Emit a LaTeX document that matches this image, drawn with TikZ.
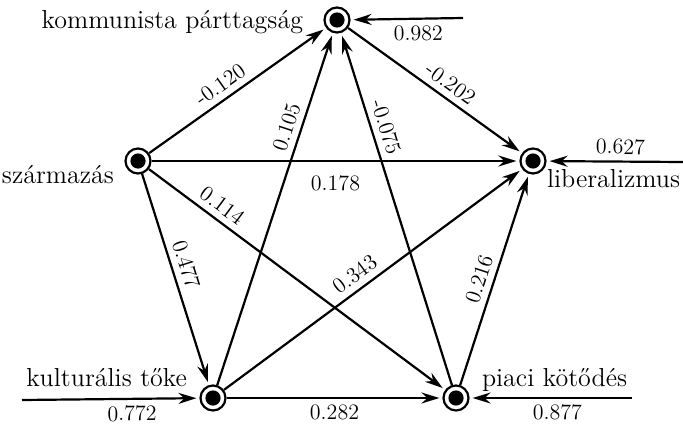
\documentclass[tikz,border=0pt]{standalone}
\usepackage{tikz}
\usetikzlibrary{arrows.meta,positioning}
\tikzset{
  var/.style={circle, draw, line width=1.1pt, minimum size=12.5pt, inner sep=0pt,
    path picture={\fill (path picture bounding box.center) circle (3.8pt);}},
  varname/.style={font=\fontsize{13}{15}\selectfont, inner sep=0pt},
  effect/.style={-{Stealth[length=9pt,width=5.5pt,inset=3pt]}, line width=1.1pt, shorten >=1.5pt},
  coef/.style={font=\fontsize{11}{13}\selectfont, sloped, inner sep=3pt}
}

\begin{document}
\begin{tikzpicture}[x=0.5pt,y=0.5pt]
    \useasboundingbox (0,0) rectangle (683,424);
    % variables
    \node[var] (komm) at (337,404) {};
    \node[var] (szar) at (138,263) {};
    \node[var] (lib) at (533,263) {};
    \node[var] (kult) at (213,26) {};
    \node[var] (piac) at (456,26) {};
    \node[varname, left=10pt of komm, yshift=-1pt] (kommtxt) {kommunista párttagság};
    \node[varname, left=5pt of szar, yshift=-7pt] (szartxt) {származás};
    \node[varname, right=0pt of lib, yshift=-9pt] (libtxt) {liberalizmus};
    \node[varname, left=6pt of kult, yshift=10pt] (kulttxt) {kulturális tőke};
    \node[varname, right=6pt of piac, yshift=9pt] (piactxt) {piaci kötődés};
    % residuals
    \coordinate (kommext) at (463,406);
    \coordinate (libext) at (683,262);
    \coordinate (kultext) at (22,24);
    \coordinate (piacext) at (632,26);
    \draw[effect] (kommext) -- node[coef, below, pos=0.4] {0.982} (komm);
    \draw[effect] (libext) -- node[coef, above, pos=0.46] {0.627} (lib);
    \draw[effect] (kultext) -- node[coef, below, pos=0.62] {0.772} (kult);
    \draw[effect] (piacext) -- node[coef, below, pos=0.46] {0.877} (piac);
    % paths
    \draw[effect] (szar) -- node[coef, above, pos=0.45] {-0.120} (komm);
    \draw[effect] (szar) -- node[coef, below=4pt, pos=0.5] {0.178} (lib);
    \draw[effect] (szar) -- node[coef, above, pos=0.22] {0.114} (piac);
    \draw[effect] (szar) -- node[coef, above, pos=0.45] {0.477} (kult);
    \draw[effect] (kult) -- node[coef, above, pos=0.72] {0.105} (komm);
    \draw[effect] (piac) -- node[coef, above, pos=0.72] {-0.075} (komm);
    \draw[effect] (komm) -- node[coef, above, pos=0.54] {-0.202} (lib);
    \draw[effect] (kult) -- node[coef, above, pos=0.47] {0.343} (lib);
    \draw[effect] (piac) -- node[coef, above, pos=0.48] {0.216} (lib);
    \draw[effect] (kult) -- node[coef, below, pos=0.5] {0.282} (piac);
\end{tikzpicture}
\end{document}
